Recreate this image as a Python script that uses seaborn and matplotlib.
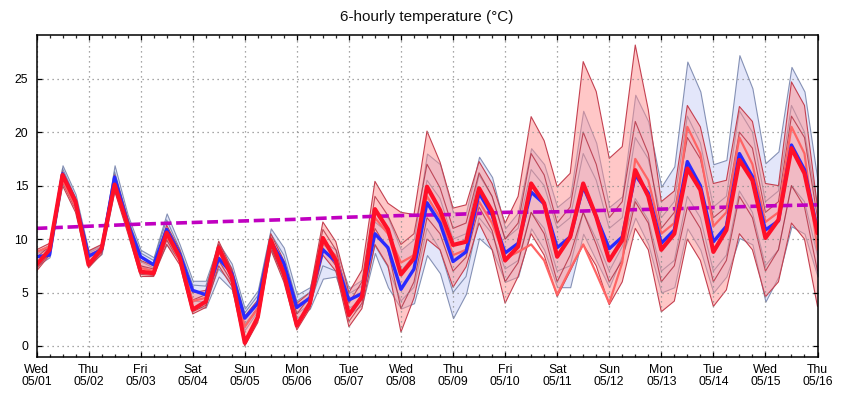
import numpy as np
import pandas as pd
import matplotlib
matplotlib.use("Agg")
import matplotlib.pyplot as plt
import seaborn as sns

# ---------------- data ----------------
times = pd.date_range("2024-05-01 00:00", periods=61, freq="6h")

day_labels = ["Wed", "Thu", "Fri", "Sat", "Sun", "Mon", "Tue", "Wed",
              "Thu", "Fri", "Sat", "Sun", "Mon", "Tue", "Wed", "Thu"]
date_labels = ["05/01", "05/02", "05/03", "05/04", "05/05", "05/06", "05/07", "05/08",
               "05/09", "05/10", "05/11", "05/12", "05/13", "05/14", "05/15", "05/16"]

red_main = [7.6, 9.0, 16.0, 13.5, 7.6, 9.1, 15.1, 11.3, 6.95, 6.8,
            10.6, 8.3, 3.4, 4.15, 9.2, 6.5, 0.3, 2.7, 9.9, 6.8,
            1.9, 4.0, 10.1, 8.0, 2.9, 4.6, 12.8, 10.9, 6.7, 8.2,
            14.9, 12.7, 9.45, 9.75, 14.75, 12.6, 8.0, 9.3, 15.2, 13.35,
            8.35, 10.2, 15.2, 12.1, 8.0, 9.9, 16.45, 14.0, 9.0, 10.5,
            16.6, 14.6, 8.8, 10.85, 17.4, 15.5, 10.1, 11.8, 18.5, 16.15, 10.55]

blue_mean = [8.35, 8.5, 16.1, 13.5, 8.4, 9.0, 15.8, 11.5, 8.35, 7.6,
             10.9, 8.6, 5.2, 4.8, 8.2, 6.8, 2.6, 4.0, 9.75, 7.75,
             3.6, 4.5, 9.0, 7.9, 4.3, 4.9, 10.5, 9.2, 5.3, 7.2,
             13.4, 11.5, 7.9, 8.8, 14.3, 12.25, 8.7, 9.6, 14.4, 13.3,
             9.2, 10.2, 14.9, 12.1, 9.1, 10.2, 16.0, 14.3, 9.6, 10.85,
             17.25, 15.0, 9.75, 11.2, 18.0, 15.85, 10.85, 11.7, 18.8, 16.5, 10.85]

blue_max = [8.8, 9.5, 16.9, 14.2, 8.9, 9.5, 16.9, 12.3, 9.0, 8.3,
            12.4, 9.5, 6.1, 6.1, 9.6, 7.7, 3.5, 5.2, 11.0, 9.2,
            4.8, 5.5, 9.8, 9.0, 5.4, 6.2, 12.5, 12.0, 9.0, 10.0,
            18.0, 17.0, 12.5, 12.5, 17.7, 15.8, 11.0, 12.5, 18.5, 17.0,
            13.0, 14.0, 22.0, 19.0, 13.0, 14.0, 23.5, 21.0, 14.9, 16.8,
            26.6, 23.8, 17.0, 17.4, 27.2, 24.1, 17.1, 18.2, 26.1, 23.8, 15.5]

blue_min = [7.5, 8.3, 15.3, 12.8, 7.6, 8.6, 14.6, 10.8, 7.5, 7.0,
            9.5, 8.0, 3.6, 3.6, 6.5, 5.3, 1.5, 3.3, 9.0, 6.5,
            2.6, 3.5, 6.3, 6.5, 3.0, 3.8, 8.7, 5.5, 3.5, 4.0,
            8.5, 6.8, 2.6, 4.9, 10.1, 9.0, 6.0, 6.5, 11.0, 9.0,
            5.5, 5.5, 10.5, 8.0, 5.5, 8.5, 12.0, 9.5, 5.0, 5.5,
            11.0, 9.0, 5.0, 6.5, 10.1, 9.5, 4.15, 6.5, 11.2, 10.5, 6.5]

red_max = [9.0, 9.6, 16.3, 13.8, 8.9, 9.5, 16.0, 12.0, 8.0, 7.5,
           11.3, 9.0, 5.0, 5.2, 9.8, 7.2, 2.8, 4.3, 10.5, 8.0,
           4.0, 5.0, 11.6, 9.75, 5.0, 7.1, 15.4, 13.35, 12.5, 12.3,
           20.1, 17.2, 12.9, 13.2, 17.25, 15.2, 11.5, 14.0, 21.45, 19.2,
           14.9, 16.15, 26.6, 23.8, 17.55, 18.65, 28.15, 22.1, 13.5, 14.5,
           22.5, 20.5, 15.2, 15.5, 22.4, 21.0, 15.2, 15.0, 24.7, 22.5, 13.0]

red_min = [7.0, 8.5, 15.0, 12.5, 7.3, 8.6, 14.5, 10.6, 6.5, 6.5,
           9.5, 7.6, 3.0, 3.6, 7.5, 5.6, 0.0, 2.2, 9.0, 6.0,
           1.5, 3.5, 8.5, 7.0, 1.8, 3.5, 9.5, 7.5, 1.3, 4.5,
           10.0, 9.0, 5.5, 7.4, 11.5, 9.0, 4.0, 6.5, 10.5, 8.5,
           4.6, 7.0, 9.5, 7.5, 3.85, 6.0, 11.0, 9.0, 3.2, 4.2,
           10.0, 8.0, 3.7, 5.25, 10.5, 9.0, 4.6, 6.0, 11.5, 10.0, 3.7]

# individual ensemble members traced roughly inside each envelope
red_member_upper = [8.3, 9.3, 16.2, 13.7, 8.2, 9.3, 15.6, 11.7, 7.5, 7.2,
                    11.0, 8.7, 4.3, 4.8, 9.5, 7.0, 1.8, 3.6, 10.2, 7.5,
                    3.0, 4.6, 10.9, 9.0, 4.0, 6.0, 14.0, 12.2, 9.5, 10.5,
                    17.0, 14.8, 11.0, 11.5, 16.2, 14.0, 10.0, 11.5, 18.0, 16.0,
                    11.5, 13.0, 20.0, 17.0, 12.0, 13.5, 21.0, 18.0, 11.0, 12.5,
                    19.5, 17.5, 12.0, 13.0, 20.0, 18.5, 12.5, 13.5, 21.5, 19.5, 12.0]
red_member_lower = [7.2, 8.7, 15.3, 12.8, 7.4, 8.8, 14.7, 10.9, 6.7, 6.6,
                    9.9, 7.9, 3.2, 3.8, 8.0, 6.0, 0.6, 2.5, 9.3, 6.3,
                    2.0, 3.7, 9.2, 7.5, 2.3, 4.0, 11.0, 9.0, 3.5, 6.0,
                    12.0, 10.5, 7.0, 8.3, 13.0, 10.8, 6.0, 7.8, 12.5, 10.5,
                    6.0, 8.5, 12.5, 9.5, 6.0, 8.0, 13.5, 11.5, 6.0, 7.5,
                    13.0, 11.0, 6.0, 8.0, 14.0, 12.0, 7.0, 9.0, 15.0, 13.0, 7.0]
blue_member_upper = [8.6, 9.2, 16.6, 13.9, 8.7, 9.3, 16.3, 12.0, 8.7, 8.0,
                     11.8, 9.1, 5.7, 5.6, 9.0, 7.3, 3.1, 4.7, 10.5, 8.5,
                     4.2, 5.0, 9.5, 8.5, 4.9, 5.6, 11.6, 10.6, 7.0, 8.5,
                     15.5, 13.8, 10.0, 10.5, 16.0, 14.0, 10.0, 11.0, 16.5, 15.0,
                     11.0, 12.0, 18.0, 15.5, 11.0, 12.0, 19.5, 17.5, 12.0, 13.5,
                     21.5, 19.0, 13.0, 14.0, 22.0, 20.0, 13.5, 14.5, 22.5, 20.0, 13.0]
blue_member_lower = [7.9, 8.4, 15.6, 13.1, 7.9, 8.8, 15.0, 11.1, 7.9, 7.3,
                     10.0, 8.2, 4.2, 4.1, 7.2, 5.9, 2.0, 3.6, 9.3, 7.0,
                     3.0, 3.9, 7.5, 7.0, 3.5, 4.3, 9.4, 7.4, 4.2, 5.5,
                     11.0, 9.0, 5.0, 6.5, 12.0, 10.5, 7.2, 8.0, 12.5, 11.0,
                     7.0, 7.5, 12.5, 10.0, 7.0, 9.3, 13.8, 11.8, 7.0, 8.0,
                     14.0, 12.0, 7.0, 8.5, 14.5, 12.5, 7.5, 9.0, 15.0, 13.5, 8.5]

member_light = [8.8, 9.3, 15.5, 13.0, 8.5, 9.0, 15.0, 11.0, 7.3, 7.0,
                10.3, 8.0, 4.2, 4.5, 8.8, 6.8, 1.8, 3.5, 9.6, 7.2,
                3.8, 4.4, 9.7, 8.4, 4.3, 5.0, 12.0, 10.5, 7.8, 8.5,
                14.0, 12.0, 8.5, 9.0, 13.5, 11.5, 8.2, 8.8, 9.5, 8.0,
                4.8, 7.2, 9.5, 6.8, 4.0, 7.8, 17.5, 15.5, 10.5, 11.5,
                20.5, 18.0, 11.2, 12.5, 19.5, 17.0, 11.6, 12.5, 20.5, 18.0, 9.0]

clim_days = pd.date_range("2024-05-01", periods=16, freq="D")
clim = [11.0, 11.2, 11.4, 11.55, 11.7, 11.85, 12.05, 12.2,
        12.3, 12.5, 12.55, 12.7, 12.8, 12.95, 13.1, 13.2]

# ---------------- plotting ----------------
sns.set_style("white")
plt.rcParams["font.family"] = ["Liberation Sans", "DejaVu Sans"]

t0 = times[0]
x = np.asarray((times - t0) / pd.Timedelta(days=1), dtype=float)
xc = np.asarray((clim_days - t0) / pd.Timedelta(days=1), dtype=float)

W, H = 843, 398
fig = plt.figure(figsize=(W / 100, H / 100), dpi=100)
ax = fig.add_axes([36.5 / W, 1 - 357 / H, (817.5 - 36.5) / W, (357 - 35.3) / H])

ax.fill_between(x, blue_min, blue_max, facecolor="#e3e6fa", edgecolor="#8591b5",
                linewidth=0.8, zorder=1)
for m in (blue_member_upper, blue_member_lower):
    sns.lineplot(x=x, y=m, ax=ax, color="#6a7aa2", lw=0.8, alpha=0.8, zorder=1.2)
ax.fill_between(x, red_min, red_max, facecolor="#ff9090", alpha=0.5, edgecolor="none",
                zorder=1.5)
for m in (red_member_upper, red_member_lower):
    sns.lineplot(x=x, y=m, ax=ax, color="#a8182c", lw=0.8, alpha=0.7, zorder=1.7)
ax.plot(x, red_min, color="#c44050", lw=0.8, zorder=1.6)
ax.plot(x, red_max, color="#c44050", lw=0.8, zorder=1.6)

sns.lineplot(x=xc, y=clim, ax=ax, color="#c000c0", lw=2.6,
             linestyle=(0, (3.0, 1.3)), zorder=3)
sns.lineplot(x=x, y=member_light, ax=ax, color="#ff6464", lw=1.6, zorder=3.5)
sns.lineplot(x=x, y=blue_mean, ax=ax, color="#2a2aff", lw=2.4, zorder=4)
sns.lineplot(x=x, y=red_main, ax=ax, color="#ff1028", lw=3.0, zorder=5)

ax.set_xlim(0, 15)
ax.set_ylim(-1.03, 29.06)
ax.set_xticks(np.arange(16))
ax.set_xticks(np.arange(0, 15.01, 0.25), minor=True)
ax.set_xticklabels([f"{d}\n{s}" for d, s in zip(day_labels, date_labels)],
                   linespacing=1.05)
ax.set_yticks([0, 5, 10, 15, 20, 25])
ax.set_xlabel("")
ax.set_ylabel("")

for lab in ax.get_xticklabels() + ax.get_yticklabels():
    lab.set_fontfamily(["Liberation Sans Narrow", "Liberation Sans"])
    lab.set_fontsize(8.8)
    lab.set_color("#111111")

ax.tick_params(which="major", direction="in", length=3.7, width=0.9,
               top=True, right=True, bottom=True, left=True, pad=5, colors="black")
ax.tick_params(which="minor", direction="in", length=2.2, width=0.9,
               top=True, bottom=True)
ax.tick_params(axis="y", pad=6)
ax.set_axisbelow(False)
ax.grid(True, which="major", color="#8a8a8a", linestyle=(0, (1, 3)), linewidth=0.9)
for sp in ax.spines.values():
    sp.set_visible(True)
    sp.set_color("black")
    sp.set_linewidth(1.1)
    sp.set_zorder(10)

fig.text(427 / W, 1 - 17 / H, "6-hourly temperature (°C)", ha="center", va="center",
         fontsize=11, color="#111111")

fig.savefig("out.png", dpi=100, facecolor="white")
